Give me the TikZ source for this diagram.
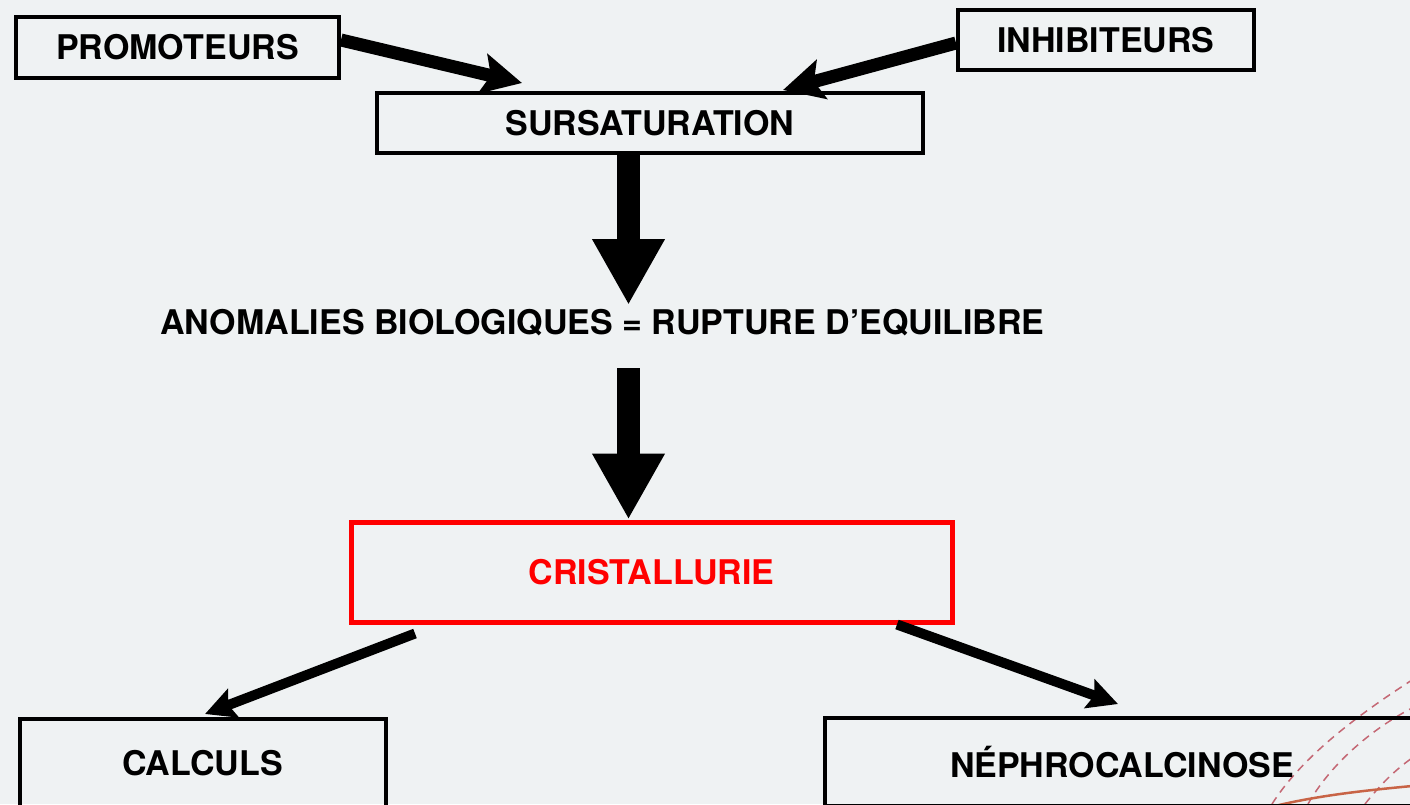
\documentclass[tikz,border=0pt]{standalone}
\usepackage{fontspec}
\setmainfont{TeX Gyre Heros}
\usetikzlibrary{arrows.meta}
\definecolor{bgcol}{RGB}{239,242,243}
\definecolor{deco}{RGB}{196,104,116}
\definecolor{decosolid}{RGB}{200,100,70}
\definecolor{myred}{RGB}{255,0,0}
\tikzset{
  box/.style={draw=black, line width=4pt, inner sep=0pt, font=\bfseries\fontsize{34}{38}\selectfont},
  lbl/.style={inner sep=0pt, font=\bfseries\fontsize{34}{38}\selectfont},
  midarrow/.style={line width=13pt, -{Stealth[length=40pt,width=40pt,inset=8pt]}},
  lowarrow/.style={line width=10pt, -{Stealth[length=30pt,width=30pt,inset=5pt]}},
  bigarrow/.style={line width=23pt, -{Triangle[length=66pt,width=68pt]}},
  decodash/.style={draw=deco, line width=1.5pt, dash pattern=on 8pt off 6pt},
}
\begin{document}
\begin{tikzpicture}[x=1pt,y=-1pt]
\clip (0,0) rectangle (1410,804);
\fill[bgcol] (0,0) rectangle (1410,804);
% decoration
\draw[decodash] (1272,804) .. controls (1300,760) and (1350,720) .. (1412,680);
\draw[decodash] (1308,804) .. controls (1330,765) and (1370,730) .. (1412,708);
\draw[decodash] (1365,804) .. controls (1380,785) and (1395,770) .. (1412,758);
\draw[decosolid, line width=2.5pt] (1275,806) .. controls (1320,795) and (1370,790) .. (1412,786);
% nodes
\node[box, minimum width=323pt, minimum height=61pt] (promo) at (177.5,47.5) {PROMOTEURS};
\node[box, minimum width=296pt, minimum height=60pt] (inh) at (1106,40) {INHIBITEURS};
\node[box, minimum width=546pt, minimum height=60pt] (sur) at (650,123) {SURSATURATION};
\node[lbl] (anom) at (602.5,323) {ANOMALIES BIOLOGIQUES = RUPTURE D’EQUILIBRE};
\node[box, draw=myred, line width=5pt, text=myred, minimum width=601pt, minimum height=100pt] (cris) at (651.5,572) {CRISTALLURIE};
\node[box, minimum width=366pt, minimum height=88pt] (calc) at (202.5,763) {CALCULS};
\node[box, minimum width=594pt, minimum height=88pt] (neph) at (1122,762) {NÉPHROCALCINOSE};
\coordinate (tip1) at (628.5,305);
\coordinate (start2) at (628.5,368);
% connectors
\draw[midarrow] ([yshift=7.5pt]promo.east) -- ([xshift=-128pt,yshift=8pt]sur.north);
\draw[midarrow] ([yshift=-3pt]inh.west) -- ([xshift=133pt,yshift=1pt]sur.north);
\draw[bigarrow] ([xshift=-21.5pt]sur.south) -- (tip1);
\draw[bigarrow] (start2) -- ([xshift=-23pt]cris.north);
\draw[lowarrow] ([xshift=-236.5pt,yshift=-9pt]cris.south) -- ([xshift=2.5pt,yshift=3pt]calc.north);
\draw[lowarrow] ([xshift=245.5pt,yshift=0pt]cris.south) -- ([xshift=-4pt,yshift=12pt]neph.north);
\end{tikzpicture}
\end{document}
